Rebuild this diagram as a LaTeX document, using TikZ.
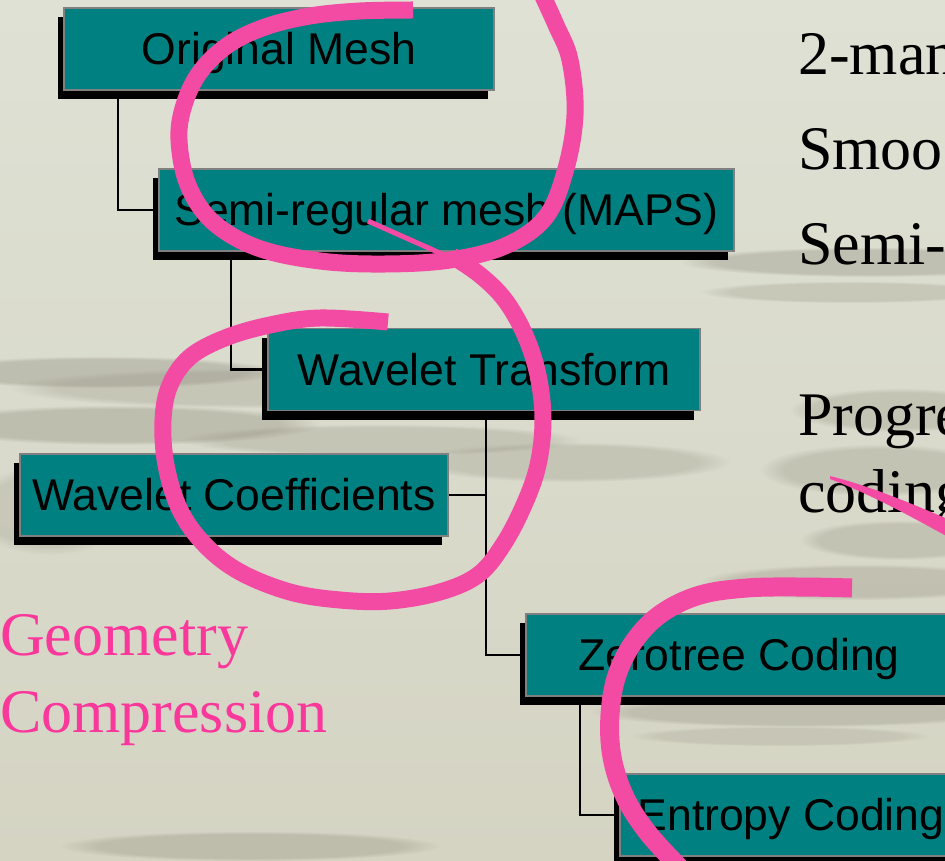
\documentclass[tikz,border=0pt]{standalone}
\usepackage{fontspec}
\setmainfont{Liberation Serif}
\newfontfamily\boxfont{Liberation Sans}
\usetikzlibrary{shadows,fadings,calc}
\definecolor{teal0}{RGB}{0,128,128}
\definecolor{boxedge}{RGB}{128,128,128}
\definecolor{pinkpen}{RGB}{243,74,164}
\definecolor{pinktext}{RGB}{250,55,155}
\definecolor{bgtop}{RGB}{222,225,212}
\definecolor{bgbot}{RGB}{213,212,195}
\definecolor{cloud}{RGB}{140,138,122}
\begin{document}
\begin{tikzpicture}[x=1pt,y=-1pt,
  box/.style={draw=boxedge, line width=1.5pt, fill=teal0, minimum height=82pt,
    inner sep=0pt, text height=31.5pt, text depth=0pt,
    font=\boxfont\fontsize{44.5}{50}\selectfont,
    drop shadow={shadow xshift=-6pt, shadow yshift=-9pt, opacity=1, fill=black}},
  conn/.style={line width=2.5pt, black},
  pen/.style={pinkpen, line width=17pt, line cap=butt, line join=round},
  side/.style={anchor=base west, inner sep=0pt, font=\fontsize{62}{74}\selectfont},
  cloudy/.style={fill=cloud, path fading=circle with fuzzy edge 20 percent}
]
\useasboundingbox (0,0) rectangle (945,861);
\clip (0,0) rectangle (945,861);
% background
\shade[top color=bgtop, bottom color=bgbot] (0,0) rectangle (945,861);
\fill[cloudy, opacity=0.35] (100,372) ellipse [x radius=180, y radius=16];
\fill[cloudy, opacity=0.25] (260,388) ellipse [x radius=250, y radius=20];
\fill[cloudy, opacity=0.35] (120,425) ellipse [x radius=200, y radius=20];
\fill[cloudy, opacity=0.25] (380,440) ellipse [x radius=200, y radius=16];
\fill[cloudy, opacity=0.25] (570,462) ellipse [x radius=160, y radius=20];
\fill[cloudy, opacity=0.22] (50,510) ellipse [x radius=80, y radius=45];
\fill[cloudy, opacity=0.35] (870,262) ellipse [x radius=190, y radius=15];
\fill[cloudy, opacity=0.25] (850,292) ellipse [x radius=150, y radius=11];
\fill[cloudy, opacity=0.28] (900,410) ellipse [x radius=110, y radius=22];
\fill[cloudy, opacity=0.28] (880,470) ellipse [x radius=120, y radius=26];
\fill[cloudy, opacity=0.28] (900,540) ellipse [x radius=100, y radius=20];
\fill[cloudy, opacity=0.30] (860,582) ellipse [x radius=160, y radius=18];
\fill[cloudy, opacity=0.30] (800,712) ellipse [x radius=210, y radius=15];
\fill[cloudy, opacity=0.20] (780,736) ellipse [x radius=150, y radius=10];
\fill[cloudy, opacity=0.30] (250,846) ellipse [x radius=190, y radius=15];

% connectors
\coordinate (j1) at (486,418);
\draw[conn] (118,99) |- (159,210);
\draw[conn] (231,259) |- (268,369.5);
\draw[conn] (j1) |- (526,655);
\draw[conn] (448,495) -- (486,495);
\draw[conn] (580,703) |- (620,815);

% boxes
\node[box, minimum width=430pt] (om) at (279,49) {Original Mesh};
\node[box, minimum width=575pt] (sr) at (446.5,210) {Semi-regular mesh (MAPS)};
\node[box, minimum width=432pt] (wt) at (484,369.5) {Wavelet Transform};
\node[box, minimum width=428pt] (wc) at (234,495) {Wavelet Coefficients};
\node[box, minimum width=426pt] (zc) at (739,655) {Zerotree Coding};
\node[box, minimum width=342pt] (ec) at (791,815) {Entropy Coding};

% side texts (cut by the right edge, as in the reference)
\node[side] (t1) at (798,75) {2-man};
\node[side] (t2) at (798,170) {Smoo};
\node[side] (t3) at (798,265) {Semi-};
\node[side] (t4) at (798,435) {Progre};
\node[side] (t5) at (798,512) {coding};
\node[side, text=pinktext] (g1) at (0,655) {Geometry};
\node[side, text=pinktext] (g2) at (0,732) {Compression};

% pink pen strokes
\draw[pen] plot[smooth, tension=0.6] coordinates {(413,10) (360,11) (310,16) (265,27) (228,45) (200,72) (184,105) (179,140) (188,185) (213,222) (258,248) (320,261) (385,264) (450,260) (505,246) (545,218) (565,172) (575,115) (570,60) (556,25) (540,-10)};
\draw[pinkpen, line width=5pt] (368,221) -- (460,262);
\draw[pen] plot[smooth, tension=0.6] coordinates {(452,256) (480,275) (505,300) (525,335) (538,375) (543,420) (538,465) (524,505) (503,545) (478,575) (440,592) (390,601) (340,600) (290,592) (240,572) (205,545) (180,510) (166,465) (163,420) (170,385) (190,357) (225,338) (270,325) (320,318) (388,322)};
\draw[pen, line width=19pt] plot[smooth, tension=0.6] coordinates {(852,588) (800,587) (747,588) (700,595) (662,613) (635,640) (617,675) (610,715) (612,757) (625,797) (648,833) (682,870)};
\fill[pinkpen] (830,476) .. controls (870,486) and (910,503) .. (950,520) -- (950,538) .. controls (910,516) and (870,494) .. (830,479) -- cycle;
\end{tikzpicture}
\end{document}
